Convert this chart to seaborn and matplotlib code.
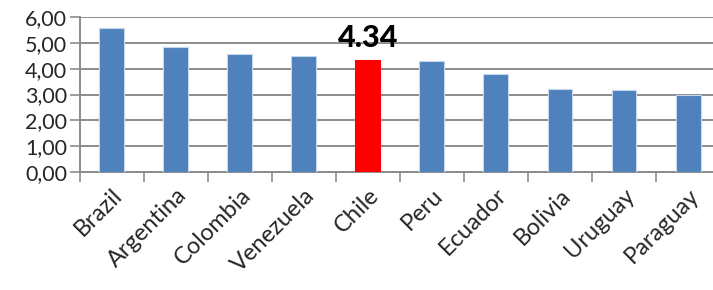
import numpy as np
import pandas as pd
import matplotlib
matplotlib.use('Agg')
import matplotlib.pyplot as plt
import seaborn as sns
from matplotlib.ticker import FuncFormatter, FixedLocator

countries = ['Brazil', 'Argentina', 'Colombia', 'Venezuela', 'Chile',
             'Peru', 'Ecuador', 'Bolivia', 'Uruguay', 'Paraguay']
values = [5.58, 4.84, 4.59, 4.50, 4.34, 4.30, 3.79, 3.21, 3.17, 2.98]
highlight = 'Chile'

df = pd.DataFrame({'Country': countries, 'Value': values})
df['Group'] = np.where(df['Country'] == highlight, 'hl', 'base')

sns.set_style('white')
plt.rcParams['font.family'] = ['Lato', 'DejaVu Sans']

fig = plt.figure(figsize=(7.13, 2.9), dpi=100)
ax = fig.add_axes([0.112, 0.407, 0.888, 0.534])

sns.barplot(data=df, x='Country', y='Value', hue='Group',
            palette={'base': '#4F81BD', 'hl': '#FF0000'}, saturation=1,
            width=0.39, dodge=False, legend=False, ax=ax,
            edgecolor='#C6D6EC', linewidth=0.8, zorder=3)
for p in ax.patches:
    if p.get_facecolor()[:3] == (1.0, 0.0, 0.0):
        p.set_edgecolor('#FF0000')

ax.set_ylim(0, 6)
ax.set_xlim(-0.5, 9.39)
ax.set_yticks(np.arange(0, 7, 1))
ax.yaxis.set_major_formatter(FuncFormatter(lambda v, _: f'{v:.2f}'.replace('.', ',')))
ax.grid(axis='y', color='#8C8C8C', linewidth=1.4, zorder=0)
ax.set_axisbelow(True)

ax.set_xlabel('')
ax.set_ylabel('')
ax.xaxis.set_minor_locator(FixedLocator(np.arange(-0.5, 10, 1)))
ax.tick_params(axis='x', which='major', length=0, pad=9, labelsize=17)
ax.tick_params(axis='x', which='minor', length=7, width=1.2, color='#8C8C8C', bottom=True)
ax.tick_params(axis='y', length=7, width=1.2, color='#8C8C8C', left=True, labelsize=15.5, pad=2)
plt.setp(ax.get_xticklabels(), rotation=45, ha='right', rotation_mode='anchor')

for s in ['top', 'right']:
    ax.spines[s].set_visible(False)
for s in ['left', 'bottom']:
    ax.spines[s].set_color('#8C8C8C')
    ax.spines[s].set_linewidth(1.4)

idx = countries.index(highlight)
ax.annotate(f'{values[idx]:.2f}', (idx, values[idx]), xytext=(0, 6),
            textcoords='offset points', ha='center', va='bottom',
            fontsize=22, fontweight='black', color='black')

fig.savefig('out.png', dpi=100)
